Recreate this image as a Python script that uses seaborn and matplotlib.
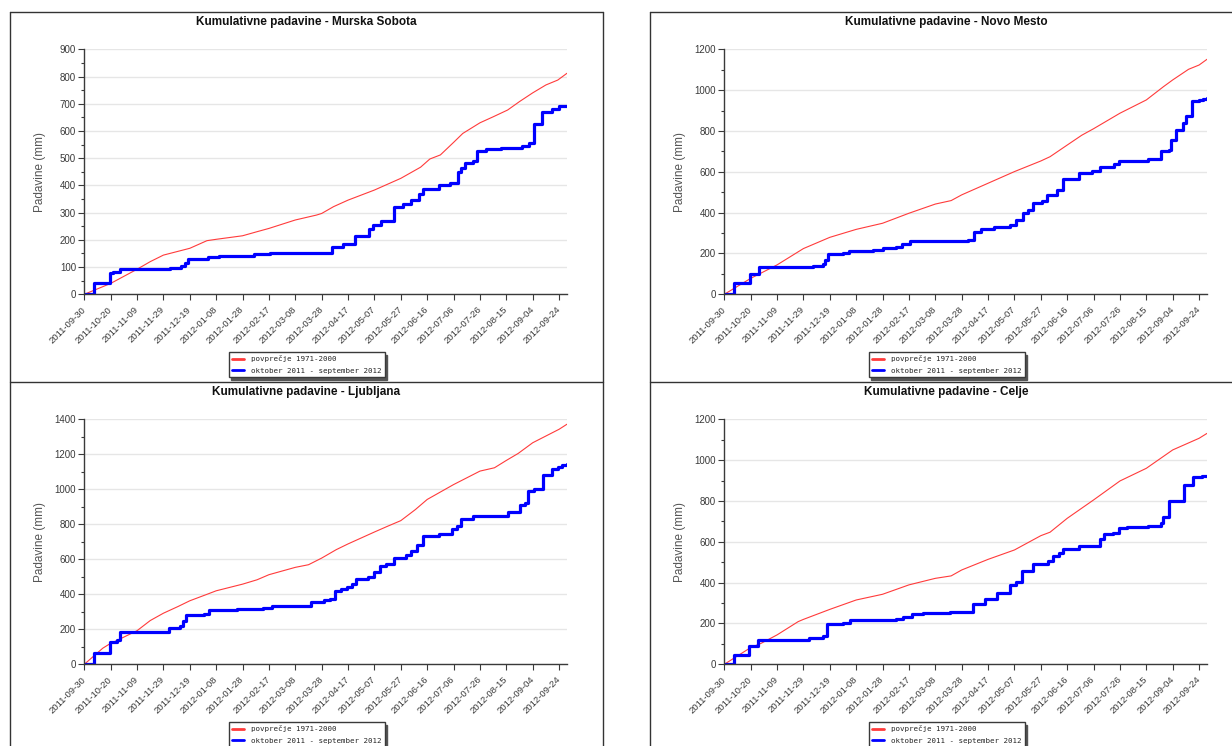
import matplotlib
matplotlib.use("Agg")
import matplotlib.pyplot as plt
import matplotlib.ticker as mticker
from matplotlib.lines import Line2D
import pandas as pd
import seaborn as sns

# ---------------- data (days after 2011-09-30, cumulative mm) ----------------
START = pd.Timestamp("2011-09-30")
tick_labels = ["2011-09-30", "2011-10-20", "2011-11-09", "2011-11-29", "2011-12-19",
               "2012-01-08", "2012-01-28", "2012-02-17", "2012-03-08", "2012-03-28",
               "2012-04-17", "2012-05-07", "2012-05-27", "2012-06-16", "2012-07-06",
               "2012-07-26", "2012-08-15", "2012-09-04", "2012-09-24"]
series_labels = ["povprečje 1971-2000", "oktober 2011 - september 2012"]

ms_title = "Kumulativne padavine - Murska Sobota"
ms_avg_days = [0, 20, 40, 50, 60, 80, 93, 100, 120, 131, 140, 160, 176, 180, 189, 200, 220, 240,
               255, 262, 270, 280, 287, 300, 310, 321, 330, 340, 350, 359, 366]
ms_avg = [0, 40, 92, 120, 144, 169, 197, 202, 215, 230, 242, 273, 291, 297, 322, 346, 383, 426,
          467, 497, 512, 558, 591, 630, 652, 677, 708, 740, 769, 787, 812]
ms_cur_days = [0, 7, 19.6, 22, 27, 65, 73, 76, 79, 94, 102, 129, 141, 188, 196, 205, 216, 219,
               225, 234.5, 242, 248, 254, 257, 269, 277, 283.6, 286, 289, 295, 298, 304.6, 316,
               332, 337, 341, 347, 355, 360, 366]
ms_cur = [0, 43, 78, 83, 92, 95, 103, 115, 130, 136, 140, 147, 152, 175, 185, 213, 240, 255,
          270, 322, 332, 345, 370, 385, 400, 410, 450, 465, 482, 490, 525, 535, 537,
          545, 555, 625, 670, 680, 690, 690]

nm_title = "Kumulativne padavine - Novo Mesto"
nm_avg_days = [0, 20, 40, 60, 80, 100, 120, 140, 160, 172, 180, 200, 220, 240, 247, 260, 271,
               280, 300, 320, 333, 340, 352, 360, 366]
nm_avg = [0, 78, 144, 224, 279, 318, 348, 397, 442, 459, 487, 544, 601, 653, 674, 731, 779,
          811, 887, 952, 1017, 1050, 1102, 1123, 1151]
nm_cur_days = [0, 7, 19.7, 26, 53.6, 67, 74.8, 76.5, 78.4, 90, 94.5, 113, 120, 130, 135, 140.5,
               185, 189, 194.6, 204.5, 217, 221, 226.5, 230, 234, 241, 245, 252, 256.7, 269, 279,
               285, 295.6, 299, 321.6, 331, 337, 338.5, 342.6, 348, 350, 355, 360, 363, 366]
nm_cur = [0, 55, 100, 133, 135, 138, 150, 170, 195, 200, 210, 218, 225, 232, 247, 262,
          268, 305, 320, 330, 340, 365, 400, 415, 445, 455, 485, 510, 565, 595, 605,
          625, 640, 655, 665, 700, 705, 755, 805, 840, 875, 945, 950, 955, 960]

lj_title = "Kumulativne padavine - Ljubljana"
lj_avg_days = [0, 14, 20, 23, 40, 50, 60, 71, 80, 92, 100, 120, 131, 140, 160, 170, 180, 191,
               200, 220, 230, 240, 251, 260, 280, 300, 311, 320, 329, 340, 360, 366]
lj_avg = [0, 92, 120, 130, 192, 250, 292, 330, 363, 397, 420, 458, 483, 512, 554, 569, 607,
          655, 688, 756, 789, 821, 884, 942, 1027, 1104, 1123, 1165, 1205, 1266, 1343, 1372]
lj_cur_days = [0, 7.2, 19.5, 24.6, 27, 64, 72.6, 75, 77, 90.6, 94.5, 116, 135.6, 142.5, 171.6,
               182, 186.5, 190, 194.5, 199, 203, 206, 215, 219.6, 224, 228.6, 234.6, 243.6, 248,
               252.6, 256.5, 269, 279, 282.6, 285.6, 294.6, 321, 330, 334.5, 336.6, 341, 347.7,
               354.6, 359, 362, 366]
lj_cur = [0, 65, 130, 140, 185, 208, 220, 250, 280, 290, 310, 315, 320, 335, 358,
          365, 375, 420, 430, 440, 460, 488, 500, 525, 560, 575, 610, 625, 650,
          680, 735, 743, 775, 790, 830, 848, 870, 910, 920, 990, 1000, 1080,
          1115, 1130, 1140, 1145]

ce_title = "Kumulativne padavine - Celje"
ce_avg_days = [0, 20, 28, 40, 56, 60, 80, 100, 120, 140, 160, 172, 180, 200, 220, 240, 247, 260,
               280, 300, 320, 340, 360, 366]
ce_avg = [0, 82, 103, 144, 209, 220, 269, 315, 343, 389, 421, 433, 462, 514, 560, 630, 647, 715,
          805, 898, 960, 1050, 1107, 1131]
ce_cur_days = [0, 7, 19, 25.4, 64, 75, 77.6, 90, 95, 130, 135.4, 142.5, 151, 171.5, 188.4, 197.5,
               206.5, 216.6, 221, 225.7, 234, 245.4, 249.6, 254, 257, 269, 285, 288, 295, 299,
               305, 321.6, 331.5, 333, 337, 348.4, 355.4, 362, 366]
ce_cur = [0, 48, 88, 120, 130, 140, 195, 200, 215, 220, 232, 248, 252, 258, 295, 318,
          350, 390, 405, 455, 492, 505, 530, 545, 565, 578, 615, 640, 645, 668,
          672, 678, 690, 720, 800, 880, 918, 920, 920]

panels = [
    (ms_title, ms_avg_days, ms_avg, ms_cur_days, ms_cur, 900, 100, (10, 12)),
    (nm_title, nm_avg_days, nm_avg, nm_cur_days, nm_cur, 1200, 200, (650, 12)),
    (lj_title, lj_avg_days, lj_avg, lj_cur_days, lj_cur, 1400, 200, (10, 382)),
    (ce_title, ce_avg_days, ce_avg, ce_cur_days, ce_cur, 1200, 200, (650, 382)),
]

# ---------------- styling ----------------
sns.set_style("white")
plt.rcParams["font.family"] = ["Liberation Sans", "DejaVu Sans"]

W, H = 1232, 746
fig = plt.figure(figsize=(W / 100, H / 100), dpi=100)
fig.patch.set_facecolor("white")

RED = "#ff3b3b"
BLUE = "#0000ff"
DARK = "#3a3a3a"


def to_dates(days):
    return START + pd.to_timedelta(pd.Series(days, dtype=float), unit="D")


def fx(x):
    return x / W


def fy(y):
    return 1 - y / H


for title, a_days, a_vals, c_days, c_vals, ymax, ystep, (ox, oy) in panels:
    l, t, r, b = ox + 74.3, oy + 37.3, ox + 557, oy + 282.3
    ax = fig.add_axes([fx(l), fy(b), (r - l) / W, (b - t) / H])

    sns.lineplot(x=to_dates(a_days), y=pd.Series(a_vals, dtype=float), ax=ax, color=RED,
                 lw=0.8, estimator=None, sort=False)
    sns.lineplot(x=to_dates(c_days), y=pd.Series(c_vals, dtype=float), ax=ax, color=BLUE,
                 lw=2.3, estimator=None, sort=False, drawstyle="steps-post")

    ax.set_xlim(START, START + pd.Timedelta(days=366))
    ax.set_ylim(0, ymax)
    ticks = to_dates([20 * i for i in range(len(tick_labels))])
    ax.set_xticks(list(ticks))
    ax.set_xticklabels(tick_labels, rotation=45, ha="right", va="center",
                       rotation_mode="anchor", fontsize=6.8, color=DARK)
    ax.yaxis.set_major_locator(mticker.MultipleLocator(ystep))
    ax.yaxis.set_minor_locator(mticker.MultipleLocator(ystep / 2))
    ax.tick_params(axis="y", which="major", labelsize=7, colors=DARK, length=4, width=0.8,
                   direction="out", left=True, pad=2)
    ax.tick_params(axis="y", which="minor", length=2, width=0.8, color=DARK, left=True)
    ax.tick_params(axis="x", which="major", length=4, width=0.8, color=DARK,
                   direction="out", bottom=True, pad=6)
    ax.set_xlabel("")
    ax.set_ylabel("")
    for s in ("top", "right"):
        ax.spines[s].set_visible(False)
    for s in ("left", "bottom"):
        ax.spines[s].set_color(DARK)
        ax.spines[s].set_linewidth(1)
    ax.yaxis.grid(True, color="#e6e6e6", lw=1)
    ax.xaxis.grid(False)
    ax.set_axisbelow(True)

    fig.text(fx(ox + 296.5), fy(oy + 9.7), title, ha="center", va="center",
             fontsize=8.5, fontweight="bold", color="#111111")
    fig.text(fx(ox + 30), fy((t + b) / 2), "Padavine (mm)", rotation=90, ha="center",
             va="center", fontsize=8.5, color="#555555")

    handles = [Line2D([], [], color=RED, lw=2), Line2D([], [], color=BLUE, lw=2)]
    leg = fig.legend(handles, series_labels, loc="upper center",
                     bbox_to_anchor=(fx(ox + 296.7), fy(oy + 340)),
                     prop={"family": "DejaVu Sans Mono", "size": 5.4},
                     frameon=True, fancybox=False, edgecolor=DARK, framealpha=1,
                     borderpad=0.45, handlelength=1.6, handletextpad=0.9,
                     labelspacing=0.65, borderaxespad=0,
                     shadow={"color": "#555555", "alpha": 1.0})
    leg.get_frame().set_linewidth(1)

# panel borders
border = dict(color="#333333", lw=1, transform=fig.transFigure)
segs = [((10, 12), (603, 12)), ((10, 12), (10, 746)), ((603, 12), (603, 746)),
        ((10, 382), (603, 382)),
        ((650, 12), (1232, 12)), ((650, 12), (650, 746)), ((650, 382), (1232, 382))]
for (x0, y0), (x1, y1) in segs:
    fig.add_artist(Line2D([fx(x0), fx(x1)], [fy(y0), fy(y1)], **border))

fig.savefig("out.png", dpi=100, facecolor="white")
